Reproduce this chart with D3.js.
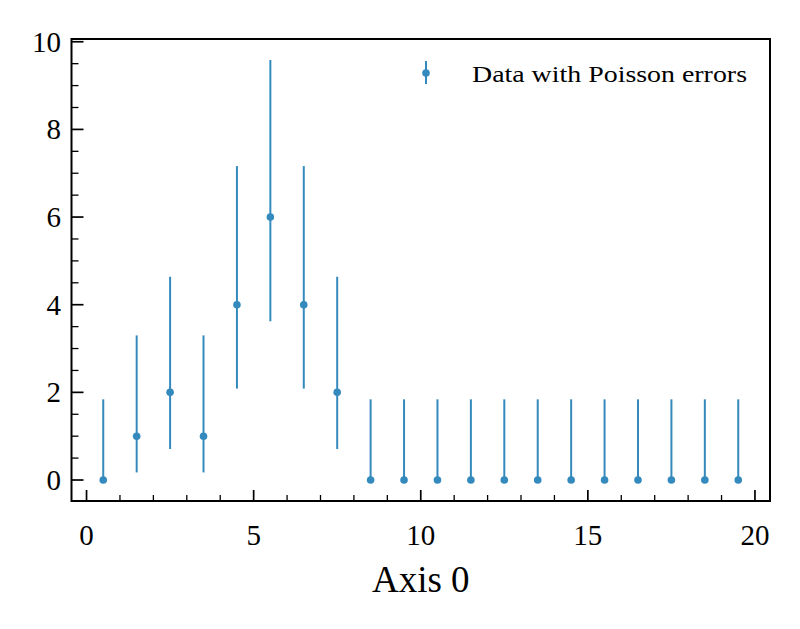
<!DOCTYPE html>
<html>
<head>
<meta charset="utf-8">
<script src="https://cdn.jsdelivr.net/npm/d3@7"></script>
<style>
  html, body { margin: 0; padding: 0; background: #fff; }
  svg { display: block; }
  text { font-family: "Liberation Serif", "DejaVu Serif", serif; fill: #000; }
</style>
</head>
<body>
<svg id="chart" width="800" height="629"></svg>
<script>
// ---- data ----
const binCenters = [0.5,1.5,2.5,3.5,4.5,5.5,6.5,7.5,8.5,9.5,10.5,11.5,12.5,13.5,14.5,15.5,16.5,17.5,18.5,19.5];
const counts     = [0,1,2,1,4,6,4,2,0,0,0,0,0,0,0,0,0,0,0,0];
// Poisson (Garwood) interval bounds
const errLow     = [0,0.173,0.708,0.173,2.086,3.620,2.086,0.708,0,0,0,0,0,0,0,0,0,0,0,0];
const errHigh    = [1.841,3.300,4.638,3.300,7.163,9.584,7.163,4.638,1.841,1.841,1.841,1.841,1.841,1.841,1.841,1.841,1.841,1.841,1.841,1.841];
const xTicks = [0,5,10,15,20];
const xMinorTicks = [1,2,3,4,6,7,8,9,11,12,13,14,16,17,18,19];
const yTicks = [0,2,4,6,8,10];
const yMinorTicks = [0.5,1,1.5,2.5,3,3.5,4.5,5,5.5,6.5,7,7.5,8.5,9,9.5];
const xLabel = "Axis 0";
const legendLabel = "Data with Poisson errors";

const color = "#348ABD";
const svg = d3.select("#chart");
const L = 71.5, R = 770, T = 39, B = 501;
const x = d3.scaleLinear().domain([-0.45, 20.45]).range([L, R]);
const y = d3.scaleLinear().domain([-0.479, 10.063]).range([B, T]);

// ticks (inward, left & bottom)
const g = svg.append("g");
const tickStroke = 1.7;
g.selectAll(".xmaj").data(xTicks).enter().append("line")
  .attr("x1", d => x(d)).attr("x2", d => x(d)).attr("y1", B).attr("y2", B - 11)
  .attr("stroke", "#000").attr("stroke-width", tickStroke);
g.selectAll(".xmin").data(xMinorTicks).enter().append("line")
  .attr("x1", d => x(d)).attr("x2", d => x(d)).attr("y1", B).attr("y2", B - 6)
  .attr("stroke", "#000").attr("stroke-width", 1.3);
g.selectAll(".ymaj").data(yTicks).enter().append("line")
  .attr("x1", L).attr("x2", L + 12).attr("y1", d => y(d)).attr("y2", d => y(d))
  .attr("stroke", "#000").attr("stroke-width", tickStroke);
g.selectAll(".ymin").data(yMinorTicks).enter().append("line")
  .attr("x1", L).attr("x2", L + 7).attr("y1", d => y(d)).attr("y2", d => y(d))
  .attr("stroke", "#000").attr("stroke-width", 1.3);

// tick labels
g.selectAll(".xl").data(xTicks).enter().append("text")
  .attr("x", d => x(d)).attr("y", 545).attr("text-anchor", "middle")
  .attr("font-size", 29).text(d => d);
g.selectAll(".yl").data(yTicks).enter().append("text")
  .attr("x", 61).attr("y", d => y(d) + 10).attr("text-anchor", "end")
  .attr("font-size", 29).text(d => d);

// axis label
svg.append("text").attr("x", (L + R) / 2).attr("y", 592).attr("text-anchor", "middle")
  .attr("font-size", 37).text(xLabel);

// error bars and points
const data = binCenters.map((c, i) => ({c, v: counts[i], lo: errLow[i], hi: errHigh[i]}));
svg.append("g").selectAll("line").data(data).enter().append("line")
  .attr("x1", d => x(d.c)).attr("x2", d => x(d.c))
  .attr("y1", d => y(d.lo)).attr("y2", d => y(d.hi))
  .attr("stroke", color).attr("stroke-width", 2);
svg.append("g").selectAll("circle").data(data).enter().append("circle")
  .attr("cx", d => x(d.c)).attr("cy", d => y(d.v)).attr("r", 3.8)
  .attr("fill", color);

// frame
svg.append("rect").attr("x", L).attr("y", T).attr("width", R - L).attr("height", B - T)
  .attr("fill", "none").attr("stroke", "#000").attr("stroke-width", 2);

// legend
const lg = svg.append("g");
lg.append("line").attr("x1", 426).attr("x2", 426).attr("y1", 61).attr("y2", 84)
  .attr("stroke", color).attr("stroke-width", 2);
lg.append("circle").attr("cx", 426).attr("cy", 73).attr("r", 3.8).attr("fill", color);
lg.append("text").attr("x", 472).attr("y", 81.5).attr("font-size", 23.5)
  .attr("textLength", 275).attr("lengthAdjust", "spacingAndGlyphs").text(legendLabel);
</script>
</body>
</html>
